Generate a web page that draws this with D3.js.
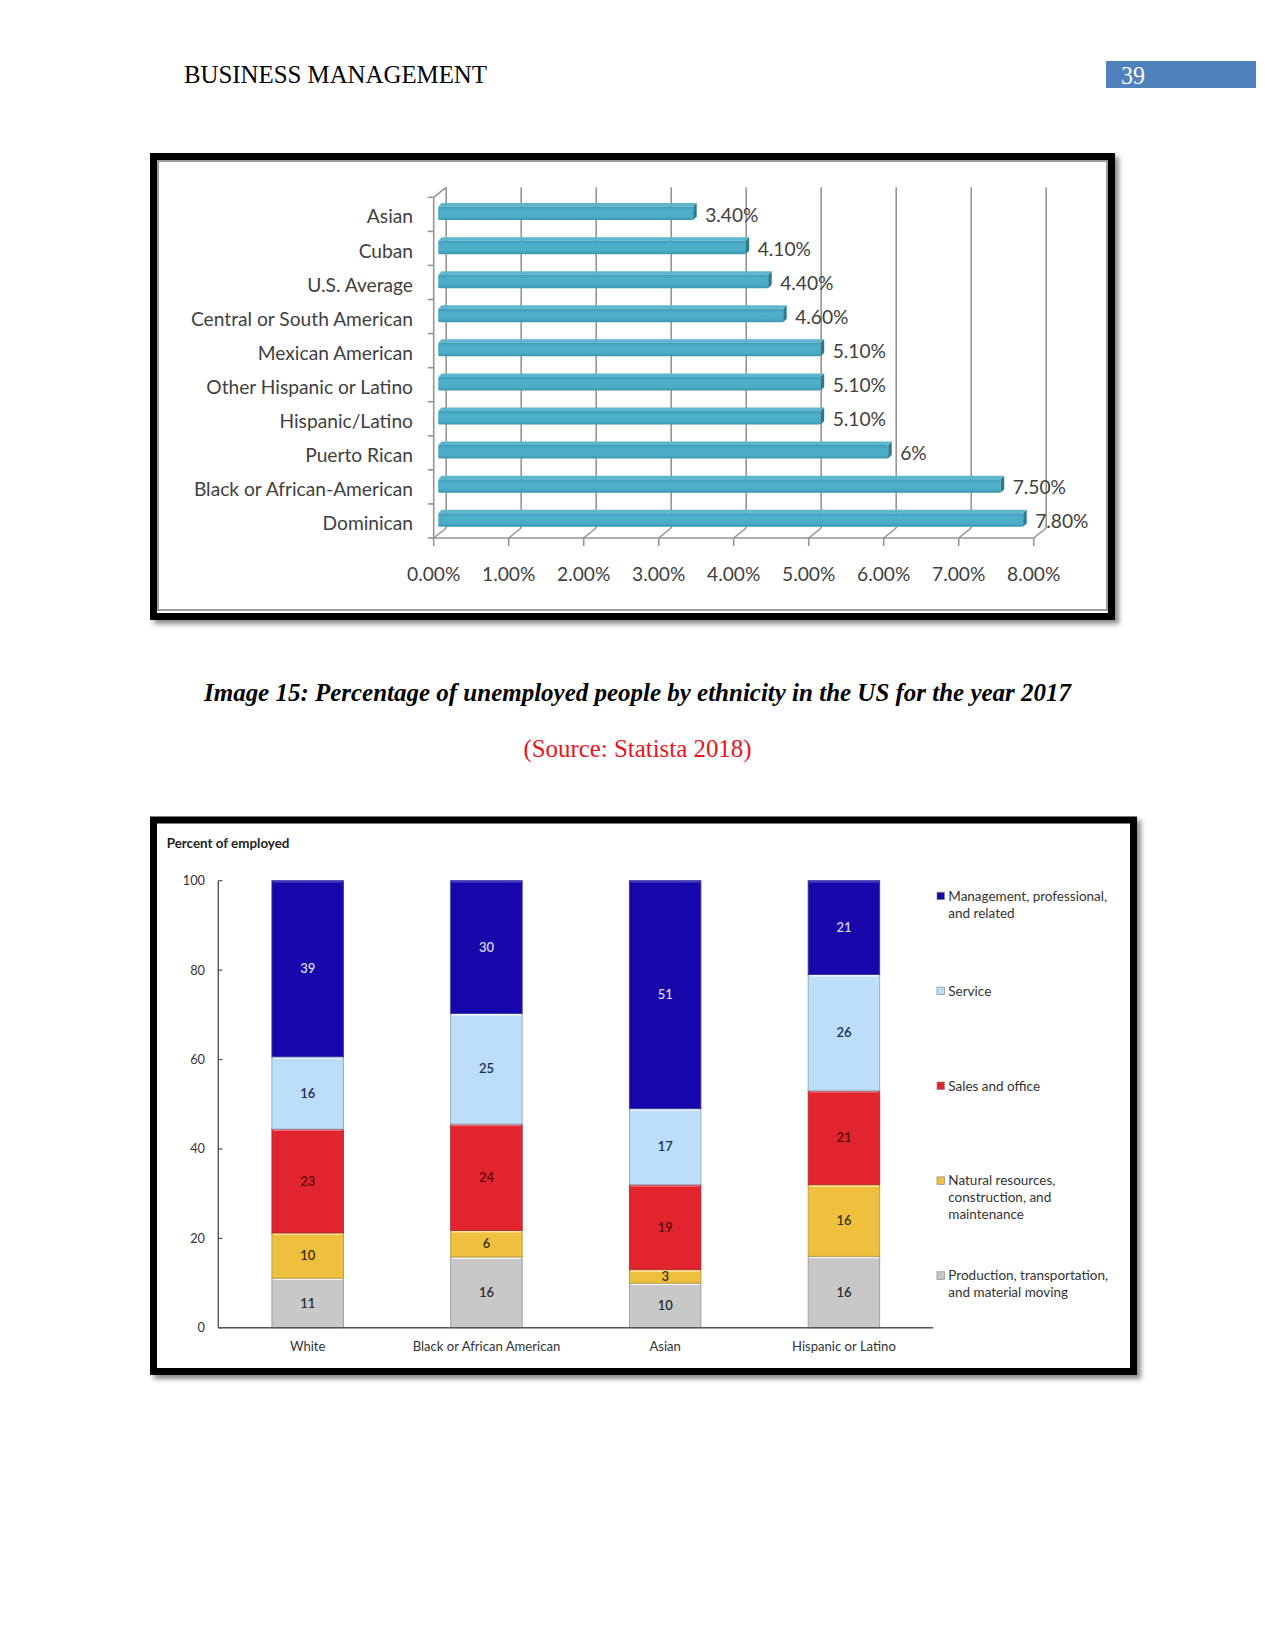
<!DOCTYPE html>
<html><head><meta charset="utf-8">
<script src="https://cdn.jsdelivr.net/npm/d3@7"></script>
<style>body{margin:0;background:#fff} svg{display:block}</style>
</head><body>
<svg id="page" width="1275" height="1650"></svg>
<script>
// ---------- DATA ----------
const ethnicities = ["Asian","Cuban","U.S. Average","Central or South American","Mexican American","Other Hispanic or Latino","Hispanic/Latino","Puerto Rican","Black or African-American","Dominican"];
const unemploymentRates = [3.4,4.1,4.4,4.6,5.1,5.1,5.1,6,7.5,7.8];
const rateLabels = ["3.40%","4.10%","4.40%","4.60%","5.10%","5.10%","5.10%","6%","7.50%","7.80%"];
const rateTicks = [0,1,2,3,4,5,6,7,8];

const groups = ["White","Black or African American","Asian","Hispanic or Latino"];
const occupations = ["Production","Natural","Sales","Service","Management"]; // bottom -> top
const production = [11,16,10,16];
const natural = [10,6,3,16];
const sales = [23,24,19,21];
const service = [16,25,17,26];
const management = [39,30,51,21];
const percentTicks = [0,20,40,60,80,100];
const legendKeys = ["Management","Service","Sales","Natural","Production"];
const legendLines = [["Management, professional,","and related"],["Service"],["Sales and office"],["Natural resources,","construction, and","maintenance"],["Production, transportation,","and material moving"]];

// ---------- PAGE ----------
const svg = d3.select("#page");
const defs = svg.append("defs");
defs.append("filter").attr("id","shadow").attr("x","-5%").attr("y","-5%").attr("width","112%").attr("height","115%")
  .append("feDropShadow").attr("dx",4).attr("dy",4).attr("stdDeviation",2.5)
  .attr("flood-color","#000").attr("flood-opacity",0.45);
const g1 = defs.append("linearGradient").attr("id","barGrad").attr("x1",0).attr("y1",0).attr("x2",0).attr("y2",1);
g1.append("stop").attr("offset","0%").attr("stop-color","#3F9CB7");
g1.append("stop").attr("offset","30%").attr("stop-color","#4DB0CA");
g1.append("stop").attr("offset","75%").attr("stop-color","#4AACC6");
g1.append("stop").attr("offset","100%").attr("stop-color","#3B95AF");

// header
svg.append("text").attr("x",184).attr("y",83).attr("font-family","Liberation Serif")
  .attr("font-size",25).attr("textLength",303).attr("lengthAdjust","spacingAndGlyphs")
  .attr("fill","#000").text("BUSINESS MANAGEMENT");
svg.append("rect").attr("x",1106).attr("y",61).attr("width",150).attr("height",27).attr("fill","#4F81BD");
svg.append("text").attr("x",1121).attr("y",84).attr("font-family","Liberation Serif")
  .attr("font-size",25).attr("textLength",24).attr("lengthAdjust","spacingAndGlyphs")
  .attr("fill","#fff").text("39");

// ---------- CHART 1 ----------
svg.append("rect").attr("x",150).attr("y",153).attr("width",965).attr("height",467).attr("fill","#fff").attr("filter","url(#shadow)");
svg.append("rect").attr("x",153.5).attr("y",156.5).attr("width",958).attr("height",460).attr("fill","none").attr("stroke","#000").attr("stroke-width",7);
svg.append("rect").attr("x",158).attr("y",161).attr("width",949).attr("height",449).attr("fill","none").attr("stroke","#9c9c9c").attr("stroke-width",2);

const x1 = d3.scaleLinear().domain([0,8]).range([433.7,1033.7]);
const y1 = d3.scaleBand().domain(ethnicities).range([197.3,538]);
const DX = 12.5, DY = -10;
const axisY = 538, topY = 187.3;
const c1 = svg.append("g");
const gridCol = "#959595";
const font1 = 19.2;

// back wall gridlines + floor diagonals + ticks
rateTicks.forEach(t => {
  const xf = x1(t), xb = x1(t)+DX;
  c1.append("line").attr("x1",xb).attr("x2",xb).attr("y1",topY).attr("y2",axisY+DY).attr("stroke",gridCol).attr("stroke-width",1.6);
  c1.append("line").attr("x1",xb).attr("x2",xf).attr("y1",axisY+DY).attr("y2",axisY).attr("stroke",gridCol).attr("stroke-width",1.6);
  c1.append("line").attr("x1",xf).attr("x2",xf).attr("y1",axisY).attr("y2",axisY+8).attr("stroke",gridCol).attr("stroke-width",1.6);
  c1.append("text").attr("x",xf).attr("y",574).attr("dy","0.35em").attr("text-anchor","middle")
    .attr("font-family","Lato").attr("font-size",font1).attr("fill","#404040")
    .text(d3.format(".2f")(t)+"%");
});
// front axes
c1.append("line").attr("x1",x1(0)).attr("x2",x1(0)).attr("y1",y1.range()[0]).attr("y2",axisY).attr("stroke",gridCol).attr("stroke-width",1.6);
c1.append("line").attr("x1",x1(0)).attr("x2",x1(0)+DX).attr("y1",y1.range()[0]).attr("y2",topY).attr("stroke",gridCol).attr("stroke-width",1.6);
c1.append("line").attr("x1",x1(0)).attr("x2",x1(8)).attr("y1",axisY).attr("y2",axisY).attr("stroke",gridCol).attr("stroke-width",1.6);
ethnicities.concat([null]).forEach((c,i) => {
  const yy = c === null ? axisY : y1(c);
  c1.append("line").attr("x1",x1(0)-6).attr("x2",x1(0)).attr("y1",yy).attr("y2",yy).attr("stroke",gridCol).attr("stroke-width",1.6);
});

// bars
const BW = 13.5, bdx = 3.5, bdy = 3.5, x0f = x1(0)+4.5;
ethnicities.forEach((c,i) => {
  const v = unemploymentRates[i];
  const cy = y1(c) + y1.bandwidth()/2 - 1;
  const top = cy - BW/2, bot = cy + BW/2;
  const xe = x0f + (x1(v) - x1(0));
  c1.append("polygon").attr("points",[[x0f,top],[xe,top],[xe+bdx,top-bdy],[x0f+bdx,top-bdy]].join(" "))
    .attr("fill","#5DB6CE");
  c1.append("rect").attr("x",x0f).attr("y",top).attr("width",xe-x0f).attr("height",BW).attr("rx",1.5)
    .attr("fill","url(#barGrad)");
  c1.append("polygon").attr("points",[[xe,top],[xe+bdx,top-bdy],[xe+bdx,bot-bdy],[xe,bot]].join(" "))
    .attr("fill","#2C7A92");
  c1.append("text").attr("x",xe+bdx+8.5).attr("y",cy+1.7).attr("dy","0.35em")
    .attr("font-family","Lato").attr("font-size",font1).attr("fill","#404040").text(rateLabels[i]);
  c1.append("text").attr("x",413).attr("y",y1(c)+y1.bandwidth()/2+2.4).attr("dy","0.35em").attr("text-anchor","end")
    .attr("font-family","Lato").attr("font-size",font1).attr("fill","#404040").text(c);
});

// caption
svg.append("text").attr("x",637.5).attr("y",701).attr("text-anchor","middle")
  .attr("font-family","Liberation Serif").attr("font-size",26).attr("font-weight","bold").attr("font-style","italic")
  .attr("textLength",867).attr("lengthAdjust","spacingAndGlyphs").attr("fill","#000")
  .text("Image 15: Percentage of unemployed people by ethnicity in the US for the year 2017");
svg.append("text").attr("x",637.5).attr("y",757).attr("text-anchor","middle")
  .attr("font-family","Liberation Serif").attr("font-size",25)
  .attr("textLength",228).attr("lengthAdjust","spacingAndGlyphs").attr("fill","#E8141B")
  .text("(Source: Statista 2018)");

// ---------- CHART 2 ----------
svg.append("rect").attr("x",150).attr("y",816.5).attr("width",987).attr("height",558.5).attr("fill","#fff").attr("filter","url(#shadow)");
svg.append("rect").attr("x",153.5).attr("y",820).attr("width",980).attr("height",551.5).attr("fill","none").attr("stroke","#000").attr("stroke-width",7);

const table = groups.map((g,i) => ({group:g, Production:production[i], Natural:natural[i], Sales:sales[i], Service:service[i], Management:management[i]}));
const stacked = d3.stack().keys(occupations).offset(d3.stackOffsetExpand)(table);
const x2 = d3.scaleBand().domain(groups).range([218.3,933.3]).paddingInner(0.6).paddingOuter(0.3);
const y2 = d3.scaleLinear().domain([0,1]).range([1327.8,880.7]);
const fills = {Management:"#1706AA", Service:"#BCDEF8", Sales:"#E2242F", Natural:"#EEC03E", Production:"#C8C8C8"};
const strokes = {Management:"#3a3a9a", Service:"#8fa6bf", Sales:"#b02a30", Natural:"#b89a3a", Production:"#9a9a9a"};
const highlights = {Management:"#4a40c8", Service:"#ffffff", Sales:"#f07a80", Natural:"#fff2b8", Production:"#ffffff"};
const labelCol = {Management:"#D8D8F4", Service:"#1C2C55", Sales:"#5A0A0A", Natural:"#3B2E00", Production:"#2B2B2B"};
const c2 = svg.append("g");

stacked.forEach(layer => {
  layer.forEach((d,i) => {
    const g = groups[i];
    const x = x2(g), w = x2.bandwidth();
    const yt = y2(d[1]), yb = y2(d[0]);
    c2.append("rect").attr("x",x).attr("y",yt).attr("width",w).attr("height",yb-yt)
      .attr("fill",fills[layer.key]).attr("stroke",strokes[layer.key]).attr("stroke-width",0.9);
    c2.append("line").attr("x1",x+1).attr("x2",x+w-1).attr("y1",yt+1.2).attr("y2",yt+1.2)
      .attr("stroke",highlights[layer.key]).attr("stroke-opacity",0.8).attr("stroke-width",1.6);
    c2.append("text").attr("x",x+w/2).attr("y",(yt+yb)/2).attr("dy","0.35em").attr("text-anchor","middle")
      .attr("font-family","Lato").attr("font-size",13).attr("font-weight",600).attr("fill",labelCol[layer.key])
      .text(d.data[layer.key]);
  });
});

// axes
c2.append("line").attr("x1",218.3).attr("x2",218.3).attr("y1",y2(1)).attr("y2",y2(0)).attr("stroke","#555").attr("stroke-width",1.4);
c2.append("line").attr("x1",218.3).attr("x2",933.3).attr("y1",y2(0)).attr("y2",y2(0)).attr("stroke","#555").attr("stroke-width",1.6);
percentTicks.forEach(t => {
  const yy = y2(t/100);
  c2.append("line").attr("x1",218.3).attr("x2",222.5).attr("y1",yy).attr("y2",yy).attr("stroke","#555").attr("stroke-width",1.2);
  c2.append("text").attr("x",205).attr("y",yy).attr("dy","0.35em").attr("text-anchor","end")
    .attr("font-family","Lato").attr("font-size",12.8).attr("fill","#333").text(t);
});
groups.forEach(g => {
  c2.append("text").attr("x",x2(g)+x2.bandwidth()/2).attr("y",1346).attr("dy","0.35em").attr("text-anchor","middle")
    .attr("font-family","Lato").attr("font-size",13.1).attr("fill","#333").text(g);
});
c2.append("text").attr("x",166.7).attr("y",848.3).attr("font-family","Lato").attr("font-weight","bold")
  .attr("font-size",13.4).attr("fill","#222").text("Percent of employed");

// legend
legendKeys.forEach((k,i) => {
  const ly = 896 + i*94.9;
  c2.append("rect").attr("x",937).attr("y",ly-3.8).attr("width",7.5).attr("height",7.5)
    .attr("fill",fills[k]).attr("stroke","#888").attr("stroke-width",0.7);
  legendLines[i].forEach((line,j) => {
    c2.append("text").attr("x",948.3).attr("y",ly + j*16.9).attr("dy","0.35em")
      .attr("font-family","Lato").attr("font-size",13.5).attr("fill","#333").text(line);
  });
});
</script>
</body></html>
